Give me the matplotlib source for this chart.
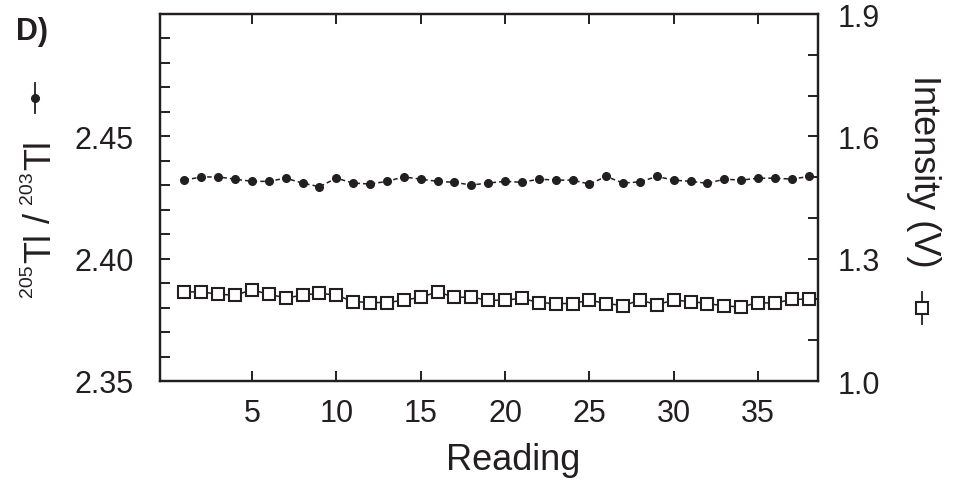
import matplotlib
import matplotlib.pyplot as plt
from matplotlib.lines import Line2D
from matplotlib.ticker import MultipleLocator, FixedLocator
matplotlib.use('Agg')

plt.rcParams['font.family'] = ['Liberation Sans', 'DejaVu Sans']

ink = '#231f20'

######################
# DATA
######################

reading = list(range(1, 39))

tl_ratio = [2.4321, 2.4334, 2.4334, 2.4325, 2.4316, 2.4316, 2.4329, 2.4309, 2.4294, 2.4329,
            2.4309, 2.4305, 2.4316, 2.4334, 2.4325, 2.4316, 2.4312, 2.4301, 2.4309, 2.4316,
            2.4312, 2.4325, 2.4321, 2.4321, 2.4305, 2.4336, 2.4309, 2.4314, 2.4336, 2.4321,
            2.4316, 2.4308, 2.4325, 2.4321, 2.4329, 2.4329, 2.4325, 2.4336]

intensity = [1.2185, 1.2185, 1.2128, 1.2104, 1.2234, 1.2128, 1.2037, 1.2104, 1.2153, 1.2104,
             1.1949, 1.1924, 1.1924, 1.1981, 1.2054, 1.2185, 1.2054, 1.2054, 1.1981, 1.1981,
             1.2029, 1.1924, 1.1900, 1.1900, 1.1981, 1.1900, 1.1850, 1.1981, 1.1875, 1.1981,
             1.1949, 1.1900, 1.1841, 1.1816, 1.1924, 1.1907, 1.2005, 1.2005]

x_ticks = [5, 10, 15, 20, 25, 30, 35]
left_ticks = [2.35, 2.40, 2.45]
right_ticks = [1.0, 1.3, 1.6, 1.9]

######################
# PLOT
######################

W, H = 956, 485
fig = plt.figure(figsize=(W / 100, H / 100), dpi=100, facecolor='w')
ax1 = fig.add_axes([160 / W, 1 - 382 / H, 658 / W, 367 / H])
ax2 = ax1.twinx()

ax1.plot(reading, tl_ratio, linestyle=(0, (3, 2)), linewidth=1.1, color=ink,
         marker='o', markersize=5.5, markerfacecolor=ink, markeredgecolor=ink, zorder=3)
ax2.plot(reading, intensity, linestyle='-', linewidth=1.1, color=ink,
         marker='s', markersize=8, markerfacecolor='w', markeredgecolor=ink, markeredgewidth=1.5, zorder=3)

ax1.set_xlim(-0.45, 38.55)
ax1.set_ylim(2.35, 2.50)
ax2.set_ylim(1.0, 1.9)

ax1.xaxis.set_major_locator(FixedLocator(x_ticks))
ax1.yaxis.set_major_locator(FixedLocator(left_ticks))
ax1.yaxis.set_minor_locator(MultipleLocator(0.01))
ax1.set_yticklabels(['%.2f' % t for t in left_ticks])
ax2.yaxis.set_major_locator(FixedLocator(right_ticks))
ax2.yaxis.set_minor_locator(MultipleLocator(0.1))
ax2.set_yticklabels(['%.1f' % t for t in right_ticks])

for ax in (ax1, ax2):
    for sp in ax.spines.values():
        sp.set_linewidth(1.6)
        sp.set_color(ink)

ax1.tick_params(axis='x', which='major', direction='in', top=True, bottom=True, length=7, width=1.4,
                color=ink, labelsize=22, pad=12, labelcolor=ink)
ax1.tick_params(axis='y', which='both', direction='in', left=True, right=False, length=7, width=1.4,
                color=ink, labelsize=22, pad=19, labelcolor=ink)
ax2.tick_params(axis='y', which='both', direction='in', left=False, right=True, length=7, width=1.4,
                color=ink, labelsize=22, pad=14, labelcolor=ink)

# axis titles
fig.text(513 / W, 1 - 470 / H, 'Reading', fontsize=26, ha='center', va='baseline', color=ink)
fig.text(924 / W, 1 - 171 / H, 'Intensity (V)', fontsize=26,
         rotation=270, ha='center', va='center', color=ink)
fig.text(16 / W, 1 - 40 / H, 'D)', fontsize=22, fontweight='bold', ha='left', va='baseline', color=ink)

# 205Tl / 203Tl built from pieces so the mass numbers stay small
renderer = fig.canvas.get_renderer()
label_parts = [('205', 14, 32), ('Tl', 26, 50), (None, 9, 0), ('/', 26, 50), (None, 9, 0),
               ('203', 14, 32), ('Tl', 26, 50)]
ypos = 297.0
for txt, size, base in label_parts:
    if txt is None:
        ypos -= size
        continue
    t = fig.text(base / W, 1 - ypos / H, txt, fontsize=size, rotation=90, rotation_mode='anchor',
                 ha='left', va='baseline', color=ink)
    ypos -= t.get_window_extent(renderer).height + 1

# little series keys next to the axis titles
fig.add_artist(Line2D([35 / W, 35 / W], [1 - 84 / H, 1 - 114 / H], transform=fig.transFigure,
                      linestyle='-', linewidth=1.3, color=ink))
fig.add_artist(Line2D([35 / W], [1 - 99 / H], transform=fig.transFigure, marker='o',
                      markersize=5.5, color=ink))
fig.add_artist(Line2D([922 / W, 922 / W], [1 - 293 / H, 1 - 325 / H], transform=fig.transFigure,
                      linestyle='-', linewidth=1.3, color=ink))
fig.add_artist(Line2D([922 / W], [1 - 309 / H], transform=fig.transFigure, marker='s',
                      markersize=8, markerfacecolor='w', markeredgecolor=ink, markeredgewidth=1.5))

fig.savefig('out.png', dpi=100)
plt.close(fig)
